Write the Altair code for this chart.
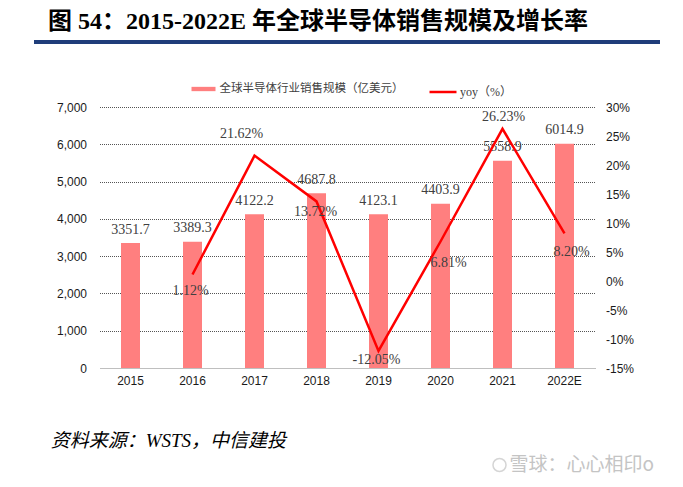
import altair as alt
import pandas as pd

years = ["2015", "2016", "2017", "2018", "2019", "2020", "2021", "2022E"]
sales = [3351.7, 3389.3, 4122.2, 4687.8, 4123.1, 4403.9, 5558.9, 6014.9]
yoy = [None, 1.12, 21.62, 13.72, -12.05, 6.81, 26.23, 8.20]

left_ticks = [0, 1000, 2000, 3000, 4000, 5000, 6000, 7000]
right_ticks = [-15, -10, -5, 0, 5, 10, 15, 20, 25, 30]

bar_name = "全球半导体行业销售规模（亿美元）"
line_name = "yoy（%）"
title_text = "图 54：2015-2022E 年全球半导体销售规模及增长率"
source_text = "资料来源：WSTS，中信建投"
watermark_text = "雪球：心心相印o"

# label offsets (style only): per-year pixel shifts for yoy labels
yoy_dx = [0, -2, -13, -1, -2, 8, 1, 7]
yoy_dy = [0, 16, -22, 11, 9, 21, -12, 19]

BAR = "#FF7F7F"
RED = "#FF0000"
W, H = 496, 261

df = pd.DataFrame({"year": years, "sales": sales, "yoy": yoy})
df["bar_series"] = bar_name
df["line_series"] = line_name

x = alt.X("year:N", sort=years, title=None,
          scale=alt.Scale(paddingInner=0, paddingOuter=0),
          axis=alt.Axis(labelAngle=0, ticks=False, domainColor="#bfbfbf",
                        labelFont="Liberation Sans", labelFontSize=12,
                        labelColor="#1a1a1a", labelPadding=7, zindex=1))

y_left = alt.Y("sales:Q", title=None,
               scale=alt.Scale(domain=[0, 7000], nice=False),
               axis=alt.Axis(orient="left", values=left_ticks, format=",d",
                             domain=False, ticks=False, grid=True,
                             gridDash=[1, 1], gridColor="#555555",
                             gridOpacity={"condition": {"test": "datum.value === 0", "value": 0}, "value": 1},
                             labelFont="Liberation Sans", labelFontSize=12,
                             labelColor="#1a1a1a", labelPadding=13))

y_right = alt.Y("yoy:Q", title=None,
                scale=alt.Scale(domain=[-15, 30], nice=False),
                axis=alt.Axis(orient="right", values=right_ticks,
                              labelExpr="datum.value + '%'",
                              domain=False, ticks=False, grid=False,
                              labelFont="Liberation Sans", labelFontSize=12,
                              labelColor="#1a1a1a", labelPadding=10))

base = alt.Chart(df)

bars = base.mark_bar(size=19).encode(
    x=x, y=y_left,
    color=alt.Color("bar_series:N",
                    scale=alt.Scale(domain=[bar_name], range=[BAR]),
                    legend=alt.Legend(orient="none", legendX=92, legendY=-30,
                                      title=None, padding=0, labelLimit=0,
                                      symbolType="M-1,-0.18L1,-0.18L1,0.18L-1,0.18Z",
                                      symbolSize=576, symbolStrokeWidth=0,
                                      labelFont="Noto Sans CJK SC", labelFontSize=11.5,
                                      labelColor="#404040", labelOffset=4)),
)

bar_labels = base.mark_text(dy=-13.5, baseline="middle", align="center",
                            font="Liberation Serif", fontSize=14, color="#404040").encode(
    x=x, y=y_left, text=alt.Text("sales:Q", format=".1f"))

left = alt.layer(bars, bar_labels)

line = base.transform_filter("isValid(datum.yoy)").mark_line(strokeWidth=2.5).encode(
    x=x, y=y_right,
    stroke=alt.Stroke("line_series:N",
                      scale=alt.Scale(domain=[line_name], range=[RED]),
                      legend=alt.Legend(orient="none", legendX=328.5, legendY=-30,
                                        title=None, padding=0, labelLimit=0,
                                        symbolType="stroke", symbolSize=729,
                                        symbolStrokeWidth=2.5,
                                        labelFont="Liberation Serif, Noto Sans CJK SC",
                                        labelFontSize=12,
                                        labelColor="#404040", labelOffset=2)),
)

yoy_layers = [line]
for i, yr in enumerate(years):
    if yoy[i] is None:
        continue
    yoy_layers.append(
        base.transform_filter(alt.datum.year == yr)
        .transform_calculate(lbl="replace(format(datum.yoy, '.2f'), '\u2212', '-') + '%'")
        .mark_text(dx=yoy_dx[i], dy=yoy_dy[i], baseline="middle", align="center",
                   font="Liberation Serif", fontSize=14, color="#404040")
        .encode(x=x, y=y_right, text="lbl:N")
    )

right = alt.layer(*yoy_layers)

one = pd.DataFrame({"a": [0]})
ann_base = alt.Chart(one)
title_mark = ann_base.mark_text(align="left", baseline="middle", fontSize=24,
                                fontWeight="bold", color="#000000",
                                font="Liberation Serif, Noto Sans CJK SC",
                                text=title_text).encode(
    x=alt.value(-51.5), y=alt.value(-85))
rule_mark = ann_base.mark_rule(color="#1F3D7A", strokeWidth=4).encode(
    x=alt.value(-65.5), x2=alt.value(560.5), y=alt.value(-65))
source_mark = ann_base.mark_text(align="left", baseline="middle", fontSize=19,
                                 fontStyle="italic", color="#000000",
                                 font="Liberation Serif, Noto Sans CJK SC",
                                 text=source_text).encode(
    x=alt.value(-48.8), y=alt.value(333.7))
wm_icon = ann_base.mark_point(shape="circle", size=170, strokeWidth=1.5,
                              color="#c4c4c4", filled=False).encode(
    x=alt.value(400), y=alt.value(358))
wm_mark = ann_base.mark_text(align="left", baseline="middle", fontSize=19,
                             color="#c4c4c4", font="Noto Sans CJK SC",
                             text=watermark_text).encode(
    x=alt.value(410), y=alt.value(358))

chart = alt.layer(left, right, rule_mark, title_mark, source_mark, wm_icon, wm_mark).resolve_scale(
    y="independent", color="independent", stroke="independent"
).properties(
    width=W, height=H,
    autosize=alt.AutoSizeParams(type="none"),
    padding={"left": 91.5, "top": 99, "right": 79, "bottom": 112},
    background="white",
).configure_view(stroke=None)

chart.save("out.html", embed_options={"renderer": "svg", "actions": False})
